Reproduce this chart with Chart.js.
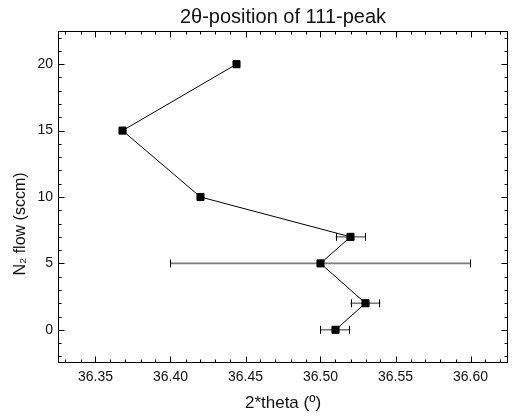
<!DOCTYPE html>
<html><head><meta charset="utf-8">
<script src="https://cdn.jsdelivr.net/npm/chart.js@4/dist/chart.umd.min.js"></script>
<style>html,body{margin:0;padding:0;background:#fff}#wrap{width:514px;height:417px}</style>
</head><body><div id="wrap"><canvas id="c" width="514" height="417"></canvas></div>
<script>
// N2 flow (sccm) for each sample
const flow = [0, 2, 5, 7, 10, 15, 20];
// 2*theta position of the 111 peak
const theta = [36.51, 36.53, 36.50, 36.52, 36.42, 36.368, 36.444];
// symmetric error on 2*theta
const thetaErr = [0.01, 0.01, 0.10, 0.01, 0, 0, 0];
// axis tick labels
const xTickValues = [36.35, 36.40, 36.45, 36.50, 36.55, 36.60];
const yTickValues = [0, 5, 10, 15, 20];
const xMinorStep = 0.01;
const yMinorStep = 1;

const titleText = '2θ-position of 111-peak';
const xTitle = '2*theta (º)';
const yTitle = 'N₂ flow (sccm)';
const FONT = "'Liberation Sans', Arial, sans-serif";

const points = flow.map((f, i) => ({ x: theta[i], y: f }));

const errorBars = {
  id: 'errorBars',
  beforeDatasetsDraw(chart) {
    const ctx = chart.ctx, xs = chart.scales.x, ys = chart.scales.y;
    ctx.save();
    flow.forEach((f, i) => {
      const e = thetaErr[i];
      if (!e) return;
      const y = ys.getPixelForValue(f);
      const x1 = xs.getPixelForValue(theta[i] - e);
      const x2 = xs.getPixelForValue(theta[i] + e);
      ctx.strokeStyle = '#7a7a7a';
      ctx.lineWidth = 1.6;
      ctx.beginPath(); ctx.moveTo(x1, y); ctx.lineTo(x2, y); ctx.stroke();
      ctx.strokeStyle = '#000';
      ctx.lineWidth = 1;
      ctx.beginPath();
      ctx.moveTo(Math.round(x1) + 0.5, y - 4); ctx.lineTo(Math.round(x1) + 0.5, y + 4);
      ctx.moveTo(Math.round(x2) - 0.5, y - 4); ctx.lineTo(Math.round(x2) - 0.5, y + 4);
      ctx.stroke();
    });
    ctx.restore();
  }
};

const frame = {
  id: 'frame',
  afterDraw(chart) {
    const ctx = chart.ctx, a = chart.chartArea, xs = chart.scales.x, ys = chart.scales.y;
    ctx.save();
    ctx.strokeStyle = '#000';
    ctx.lineWidth = 1;
    const L = Math.round(a.left) + 0.5, R = Math.round(a.right) - 0.5;
    const T = Math.round(a.top) + 0.5, B = Math.round(a.bottom) - 0.5;
    ctx.strokeRect(L, T, R - L, B - T);
    ctx.beginPath();
    const xStart = Math.ceil(xs.min / xMinorStep - 1e-6);
    const xEnd = Math.floor(xs.max / xMinorStep + 1e-6);
    for (let k = xStart; k <= xEnd; k++) {
      const v = k * xMinorStep;
      const major = xTickValues.some(t => Math.abs(t - v) < 1e-6);
      const len = major ? 6 : 3;
      const px = Math.round(xs.getPixelForValue(v)) + 0.5;
      ctx.moveTo(px, B); ctx.lineTo(px, B - len);
      ctx.moveTo(px, T); ctx.lineTo(px, T + len);
    }
    const yStart = Math.ceil(ys.min / yMinorStep - 1e-6);
    const yEnd = Math.floor(ys.max / yMinorStep + 1e-6);
    for (let k = yStart; k <= yEnd; k++) {
      const v = k * yMinorStep;
      const major = yTickValues.some(t => Math.abs(t - v) < 1e-6);
      const len = major ? 6 : 3;
      const py = Math.round(ys.getPixelForValue(v)) + 0.5;
      ctx.moveTo(L, py); ctx.lineTo(L + len, py);
      ctx.moveTo(R, py); ctx.lineTo(R - len, py);
    }
    ctx.stroke();
    ctx.fillStyle = '#111';
    ctx.textAlign = 'center';
    ctx.textBaseline = 'middle';
    ctx.font = '17px ' + FONT;
    ctx.fillText(xTitle, (a.left + a.right) / 2, 403);
    ctx.translate(21, 224);
    ctx.rotate(-Math.PI / 2);
    ctx.font = '16px ' + FONT;
    ctx.fillText(yTitle, 0, 0);
    ctx.restore();
  }
};

new Chart(document.getElementById('c'), {
  type: 'scatter',
  data: {
    datasets: [{
      data: points,
      showLine: true,
      borderColor: '#000',
      borderWidth: 1,
      pointStyle: 'rect',
      pointRadius: 5,
      pointBorderWidth: 1,
      pointBackgroundColor: '#000',
      pointBorderColor: '#000',
      tension: 0
    }]
  },
  options: {
    responsive: false,
    devicePixelRatio: 1,
    animation: false,
    layout: { padding: { right: 5, left: 0, top: 0, bottom: 0 } },
    plugins: {
      legend: { display: false },
      tooltip: { enabled: false },
      title: {
        display: true,
        text: titleText,
        fullSize: false,
        color: '#111',
        font: { family: FONT, size: 20, weight: 'normal' },
        padding: { top: 5, bottom: 2 }
      }
    },
    scales: {
      x: {
        type: 'linear',
        min: 36.325,
        max: 36.625,
        afterBuildTicks: s => { s.ticks = xTickValues.map(v => ({ value: v })); },
        afterFit: s => { s.height = 54; },
        grid: { display: false, drawTicks: false },
        border: { display: false },
        ticks: {
          color: '#111',
          font: { family: FONT, size: 14 },
          padding: 6,
          maxRotation: 0,
          autoSkip: false,
          callback: v => Number(v).toFixed(2)
        }
      },
      y: {
        type: 'linear',
        min: -2.5,
        max: 22.5,
        afterBuildTicks: s => { s.ticks = yTickValues.map(v => ({ value: v })); },
        afterFit: s => { s.width = 58; },
        grid: { display: false, drawTicks: false },
        border: { display: false },
        ticks: {
          color: '#111',
          font: { family: FONT, size: 14 },
          padding: 5,
          autoSkip: false,
          callback: v => String(v)
        }
      }
    }
  },
  plugins: [errorBars, frame]
});
</script>
</body></html>
